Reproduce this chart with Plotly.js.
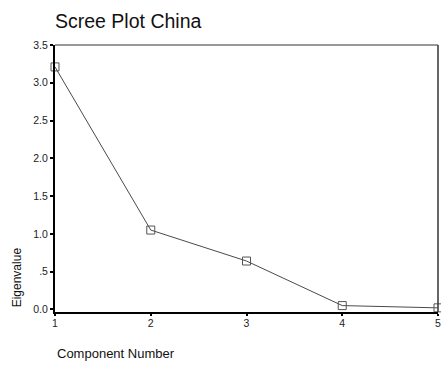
<!DOCTYPE html>
<html>
<head>
<meta charset="utf-8">
<script src="https://cdn.plot.ly/plotly-3.0.1.min.js"></script>
<style>html,body{margin:0;padding:0;background:#fff;}#chart{width:441px;height:369px;}</style>
</head>
<body>
<div id="chart"></div>
<script>
const components = [1, 2, 3, 4, 5];
const eigenvalues = [3.21, 1.05, 0.64, 0.05, 0.02];
const yTickVals = [0, 0.5, 1, 1.5, 2, 2.5, 3, 3.5];
const yTickText = ["0.0", ".5", "1.0", "1.5", "2.0", "2.5", "3.0", "3.5"];
const xTickVals = [1, 2, 3, 4, 5];
const xTickText = ["1", "2", "3", "4", "5"];

const font = "Liberation Sans, Arial, sans-serif";

const trace = {
  x: components,
  y: eigenvalues,
  type: "scatter",
  mode: "lines+markers",
  line: {color: "#4a4a4a", width: 1},
  marker: {symbol: "square-open", size: 8, color: "#555555", line: {width: 1}},
  cliponaxis: false,
  hoverinfo: "none"
};

const layout = {
  width: 441,
  height: 369,
  margin: {l: 55, r: 3, t: 45, b: 57},
  paper_bgcolor: "#ffffff",
  plot_bgcolor: "#ffffff",
  showlegend: false,
  font: {family: font, color: "#111111"},
  title: {
    text: "Scree Plot China",
    font: {family: font, size: 19.5, color: "#111111"},
    x: 0, xanchor: "left", xref: "paper",
    y: 1 - 21 / 369, yanchor: "middle"
  },
  xaxis: {
    range: [1, 5],
    tickvals: xTickVals,
    ticktext: xTickText,
    showgrid: false,
    zeroline: false,
    showline: true,
    linecolor: "#000000",
    linewidth: 2,
    ticks: "outside",
    ticklen: 2,
    tickwidth: 2,
    tickcolor: "#000000",
    ticklabeloverflow: "allow",
    ticklabelstandoff: -2,
    tickfont: {family: font, size: 10.5, color: "#222222"},
    fixedrange: true
  },
  yaxis: {
    range: [-0.035, 3.5],
    tickvals: yTickVals,
    ticktext: yTickText,
    showgrid: false,
    zeroline: false,
    showline: true,
    linecolor: "#000000",
    linewidth: 2,
    ticks: "outside",
    ticklen: 3,
    tickwidth: 2,
    tickcolor: "#000000",
    tickfont: {family: font, size: 10.5, color: "#222222"},
    fixedrange: true
  },
  shapes: [
    {type: "line", xref: "paper", yref: "paper", x0: 0, x1: 1, y0: 1, y1: 1,
     line: {color: "#777777", width: 1.5}},
    {type: "line", xref: "paper", yref: "paper", x0: 1, x1: 1, y0: 0, y1: 1,
     line: {color: "#333333", width: 1.5}}
  ],
  annotations: [
    {text: "Eigenvalue", xref: "paper", yref: "paper",
     x: -38 / 383, y: 0.01, xanchor: "center", yanchor: "bottom",
     textangle: -90, showarrow: false,
     font: {family: font, size: 12, color: "#111111"}},
    {text: "Component Number", xref: "paper", yref: "paper",
     x: 0, y: -41 / 267, xanchor: "left", yanchor: "middle",
     showarrow: false,
     font: {family: font, size: 13, color: "#111111"}}
  ]
};

Plotly.newPlot("chart", [trace], layout, {displayModeBar: false, staticPlot: true});
</script>
</body>
</html>
